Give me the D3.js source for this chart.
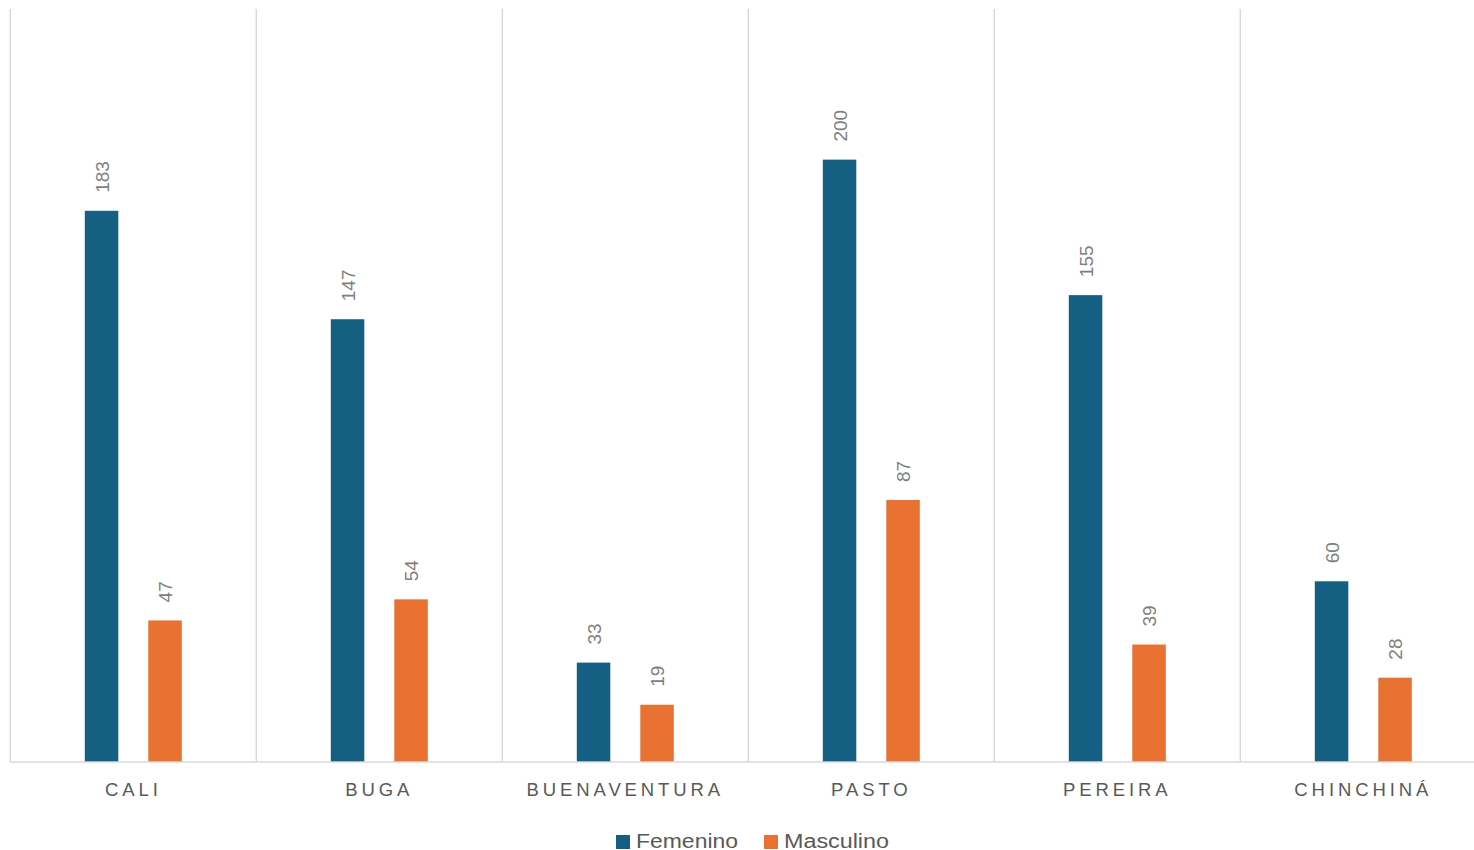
<!DOCTYPE html>
<html>
<head>
<meta charset="utf-8">
<script src="https://cdn.jsdelivr.net/npm/d3@7"></script>
<style>
  html, body { margin: 0; padding: 0; background: #ffffff; }
  svg { display: block; }
  text { font-family: "Liberation Sans", Arial, sans-serif; }
</style>
</head>
<body>
<svg id="chart" width="1474" height="850"></svg>
<script>
// Cities and counts by sex
const categories = ["CALI", "BUGA", "BUENAVENTURA", "PASTO", "PEREIRA", "CHINCHINÁ"];
const seriesNames = ["Femenino", "Masculino"];
const femenino = [183, 147, 33, 200, 155, 60];
const masculino = [47, 54, 19, 87, 39, 28];
const seriesColors = ["#156082", "#E97132"];

const svg = d3.select("#chart");

const plotLeft = 10.3, bandW = 246;
const yTop = 9, yBase = 762;

const x = d3.scaleBand()
  .domain(categories)
  .range([plotLeft, plotLeft + bandW * categories.length])
  .paddingInner(0).paddingOuter(0);

// two bars per city, 33.5px wide, 30px apart, centred in the band
const xSub = d3.scaleBand()
  .domain(seriesNames)
  .range([0, bandW])
  .paddingInner(0.4724)
  .paddingOuter(1.173);

const y = d3.scaleLinear().domain([0, 250]).range([yBase, yTop]);

// vertical separators between cities
svg.append("g")
  .selectAll("line")
  .data(categories)
  .join("line")
  .attr("x1", d => x(d)).attr("x2", d => x(d))
  .attr("y1", yTop).attr("y2", yBase)
  .attr("stroke", "#d9d9d9")
  .attr("stroke-width", 1.5);

const rows = categories.map((c, i) => ({
  city: c,
  values: [
    { series: seriesNames[0], value: femenino[i], color: seriesColors[0] },
    { series: seriesNames[1], value: masculino[i], color: seriesColors[1] }
  ]
}));

const groups = svg.append("g")
  .selectAll("g")
  .data(rows)
  .join("g")
  .attr("transform", d => `translate(${x(d.city)},0)`);

groups.selectAll("rect")
  .data(d => d.values)
  .join("rect")
  .attr("x", d => xSub(d.series))
  .attr("width", xSub.bandwidth())
  .attr("y", d => y(d.value))
  .attr("height", d => yBase - y(d.value))
  .attr("fill", d => d.color);

// rotated value labels above each bar
groups.selectAll("text.val")
  .data(d => d.values)
  .join("text")
  .attr("class", "val")
  .attr("transform", d => `translate(${xSub(d.series) + xSub.bandwidth() / 2 + 0.5},${y(d.value) - 18}) rotate(-90)`)
  .attr("dy", "0.36em")
  .attr("text-anchor", "start")
  .attr("font-size", 19)
  .attr("fill", "#7f7f7f")
  .text(d => d.value);

// baseline / x axis
const xAxis = d3.axisBottom(x).tickSize(0).tickPadding(0);
const axisG = svg.append("g")
  .attr("transform", `translate(0,${yBase})`)
  .call(xAxis);
axisG.select(".domain").remove();
axisG.append("line")
  .attr("x1", 10).attr("x2", 1474)
  .attr("y1", 0).attr("y2", 0)
  .attr("stroke", "#d9d9d9")
  .attr("stroke-width", 1.5);
const ls = 3.9;
axisG.selectAll(".tick text")
  .attr("y", 34)
  .attr("dy", 0)
  .attr("dx", 0)
  .attr("font-size", 18.5)
  .attr("font-family", "'Liberation Sans', Arial, sans-serif")
  .attr("letter-spacing", ls)
  .attr("fill", "#595959");

// legend
const legendItems = [
  { name: seriesNames[0], color: seriesColors[0], x: 616, w: 102 },
  { name: seriesNames[1], color: seriesColors[1], x: 764, w: 105 }
];
const legend = svg.append("g");
legend.selectAll("rect")
  .data(legendItems)
  .join("rect")
  .attr("x", d => d.x).attr("y", 835)
  .attr("width", 14).attr("height", 14)
  .attr("fill", d => d.color);
legend.selectAll("text")
  .data(legendItems)
  .join("text")
  .attr("x", d => d.x + 20)
  .attr("y", 847.5)
  .attr("font-size", 20)
  .attr("textLength", d => d.w)
  .attr("lengthAdjust", "spacingAndGlyphs")
  .attr("fill", "#595959")
  .text(d => d.name);
</script>
</body>
</html>
